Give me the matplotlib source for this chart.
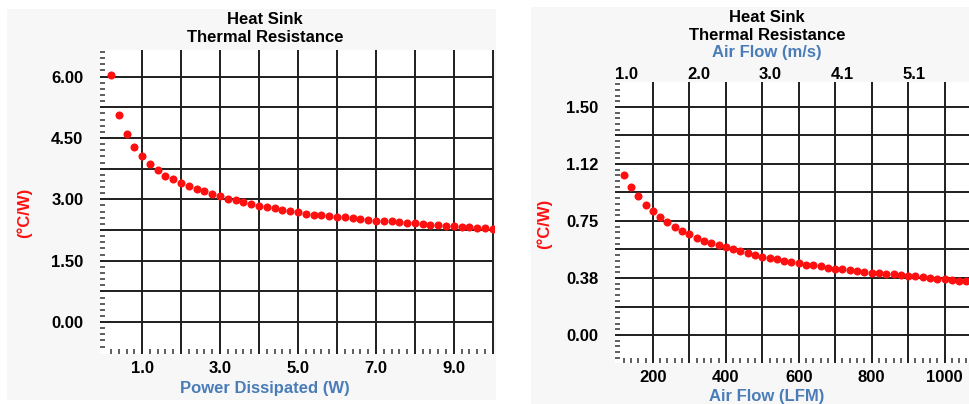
import numpy as np
import matplotlib
matplotlib.use('Agg')
import matplotlib.pyplot as plt
from matplotlib.patches import Rectangle
from matplotlib.ticker import FixedLocator

plt.rcParams['font.family'] = ['Liberation Sans', 'DejaVu Sans']

# left chart: thermal resistance vs power dissipated
power_w = [0.2, 0.4, 0.6, 0.8, 1.0, 1.2, 1.4, 1.6, 1.8, 2.0,
           2.2, 2.4, 2.6, 2.8, 3.0, 3.2, 3.4, 3.6, 3.8, 4.0,
           4.2, 4.4, 4.6, 4.8, 5.0, 5.2, 5.4, 5.6, 5.8, 6.0,
           6.2, 6.4, 6.6, 6.8, 7.0, 7.2, 7.4, 7.6, 7.8, 8.0,
           8.2, 8.4, 8.6, 8.8, 9.0, 9.2, 9.4, 9.6, 9.8, 10.0]
res_power = [6.05, 5.06, 4.59, 4.27, 4.05, 3.86, 3.71, 3.58, 3.49, 3.39,
             3.32, 3.26, 3.20, 3.13, 3.07, 3.02, 2.98, 2.93, 2.88, 2.84,
             2.81, 2.78, 2.75, 2.71, 2.68, 2.65, 2.62, 2.61, 2.59, 2.57,
             2.56, 2.54, 2.53, 2.50, 2.48, 2.46, 2.46, 2.44, 2.43, 2.41,
             2.39, 2.38, 2.37, 2.35, 2.34, 2.32, 2.32, 2.31, 2.29, 2.28]
left_xlabels = ['1.0', '3.0', '5.0', '7.0', '9.0']
left_ylabels = ['0.00', '1.50', '3.00', '4.50', '6.00']

# right chart: thermal resistance vs air flow
flow_lfm = [120, 140, 160, 180, 200, 220, 240, 260, 280, 300,
            320, 340, 360, 380, 400, 420, 440, 460, 480, 500,
            520, 540, 560, 580, 600, 620, 640, 660, 680, 700,
            720, 740, 760, 780, 800, 820, 840, 860, 880, 900,
            920, 940, 960, 980, 1000, 1020, 1040, 1060]
res_flow = [1.053, 0.976, 0.914, 0.855, 0.816, 0.774, 0.743, 0.712, 0.686, 0.664,
            0.640, 0.620, 0.607, 0.592, 0.577, 0.564, 0.555, 0.538, 0.528, 0.515,
            0.505, 0.498, 0.489, 0.480, 0.472, 0.463, 0.458, 0.452, 0.443, 0.436,
            0.432, 0.428, 0.421, 0.414, 0.410, 0.406, 0.401, 0.399, 0.395, 0.390,
            0.386, 0.382, 0.375, 0.370, 0.366, 0.360, 0.357, 0.355]
right_xlabels = ['200', '400', '600', '800', '1000']
right_ylabels = ['0.00', '0.38', '0.75', '1.12', '1.50']
top_tick_lfm = [128, 325, 522, 719, 916]
top_tick_labels = ['1.0', '2.0', '3.0', '4.1', '5.1']

W, H = 969, 404
fig = plt.figure(figsize=(W / 100, H / 100), dpi=100)

def fx(px):
    return px / W

def fy(py):
    return 1 - py / H

# light gray panels behind each chart
fig.patches.append(Rectangle((fx(7), fy(400)), 489 / W, 391 / H, transform=fig.transFigure,
                             facecolor='#f7f7f7', edgecolor='none', zorder=-5))
fig.patches.append(Rectangle((fx(531), fy(404)), 440 / W, 397 / H, transform=fig.transFigure,
                             facecolor='#f7f7f7', edgecolor='none', zorder=-5))

blue = '#4a7db8'
red = '#ff1010'
FS = 12
tick_font = dict(fontsize=FS, fontweight='bold', color='black')


def style_axes(ax, xmaj, xlab, ymaj, ylab, xminor, yminor):
    ax.set_facecolor('white')
    for s in ax.spines.values():
        s.set_visible(False)
    ax.set_xticks(xmaj)
    ax.set_xticklabels(xlab, **tick_font)
    ax.set_yticks(ymaj)
    ax.set_yticklabels(ylab, **tick_font)
    ax.xaxis.set_minor_locator(FixedLocator(xminor))
    ax.yaxis.set_minor_locator(FixedLocator(yminor))
    ax.tick_params(which='major', length=0)
    ax.tick_params(axis='y', which='major', pad=12)
    ax.tick_params(axis='x', which='major', pad=5)
    ax.tick_params(which='minor', direction='in', length=3.5, width=1.1, color='#333333')
    ax.grid(True, which='major', color='#1e1e1e', linewidth=1.4)
    ax.set_axisbelow(True)


# ---- left chart ----
ax1 = fig.add_axes([fx(100), fy(354), 394 / W, 304 / H])
ax1.set_xlim(-0.08, 10.03)
ax1.set_ylim(-0.78, 6.65)
xmaj1 = np.arange(1, 11)
xlab1 = [f'{v:.1f}' if f'{v:.1f}' in left_xlabels else '' for v in xmaj1]
ymaj1 = np.arange(0, 9) * 0.75
ylab1 = [f'{v:.2f}' if f'{v:.2f}' in left_ylabels else '' for v in ymaj1]
xmin1 = [v for v in np.round(np.arange(0.2, 10, 0.2), 2) if abs(v - round(v)) > 1e-6]
ymin1 = np.round(np.arange(-0.6, 6.61, 0.15), 3)
style_axes(ax1, xmaj1, xlab1, ymaj1, ylab1, xmin1, ymin1)
ax1.plot(power_w, res_power, 'o', color=red, markersize=5.8, markeredgewidth=0, zorder=3)

fig.text(fx(265), fy(20), 'Heat Sink', ha='center', va='center', fontsize=FS, fontweight='bold')
fig.text(fx(265), fy(38), 'Thermal Resistance', ha='center', va='center', fontsize=FS, fontweight='bold')
fig.text(fx(265), fy(388), 'Power Dissipated (W)', ha='center', va='center', fontsize=FS,
         fontweight='bold', color=blue)
fig.text(fx(24), fy(213), '(°C/W)', ha='center', va='center', rotation=90, fontsize=FS,
         fontweight='bold', color=red)

# ---- right chart ----
ax2 = fig.add_axes([fx(615), fy(363), 366 / W, 281 / H])
ax2.set_xlim(96, 1100)
ax2.set_ylim(-0.184, 1.664)
xmaj2 = np.arange(200, 1101, 100)
xlab2 = [str(v) if str(v) in right_xlabels else '' for v in xmaj2]
ymaj2 = np.arange(0, 9) * 0.1875
ylab2 = [right_ylabels[i // 2] if i % 2 == 0 else '' for i in range(len(ymaj2))]
xmin2 = [v for v in np.arange(120, 1100, 20) if v % 100 != 0]
ymin2 = np.round(np.arange(-0.15, 1.66, 0.0375), 4)
style_axes(ax2, xmaj2, xlab2, ymaj2, ylab2, xmin2, ymin2)
ax2.plot(flow_lfm, res_flow, 'o', color=red, markersize=5.8, markeredgewidth=0, zorder=3)

top = ax2.twiny()
top.set_xlim(ax2.get_xlim())
top.set_xticks(top_tick_lfm)
top.set_xticklabels(top_tick_labels, **tick_font)
top.tick_params(axis='x', length=0, pad=0)
for s in top.spines.values():
    s.set_visible(False)

fig.text(fx(767), fy(17), 'Heat Sink', ha='center', va='center', fontsize=FS, fontweight='bold')
fig.text(fx(767), fy(35), 'Thermal Resistance', ha='center', va='center', fontsize=FS, fontweight='bold')
fig.text(fx(767), fy(53), 'Air Flow (m/s)', ha='center', va='center', fontsize=FS,
         fontweight='bold', color=blue)
fig.text(fx(767), fy(396), 'Air Flow (LFM)', ha='center', va='center', fontsize=FS,
         fontweight='bold', color=blue)
fig.text(fx(544), fy(224), '(°C/W)', ha='center', va='center', rotation=90, fontsize=FS,
         fontweight='bold', color=red)

fig.savefig('out.png', dpi=100)
